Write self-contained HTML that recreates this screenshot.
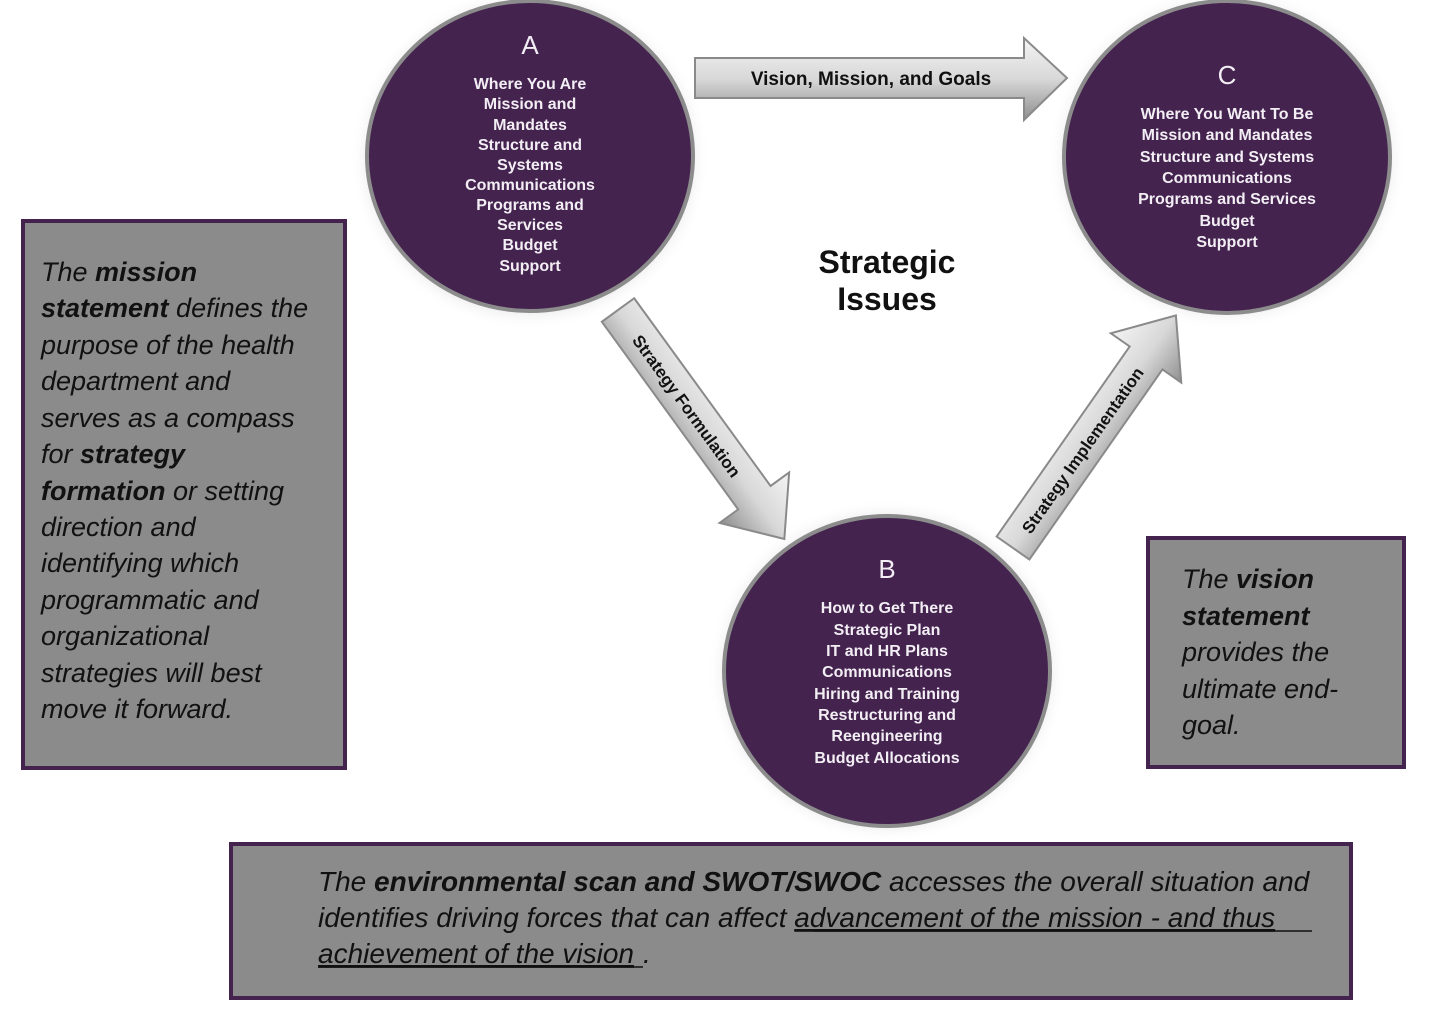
<!DOCTYPE html>
<html><head><meta charset="utf-8"><style>
html,body{margin:0;padding:0;background:#fff;}
svg{display:block;}
.c{font-family:"Liberation Sans",sans-serif;font-weight:bold;fill:#f2eef4;text-anchor:middle;}
.t{font-family:"Liberation Sans",sans-serif;font-style:italic;fill:#111;}
</style></head><body>
<svg width="1432" height="1016" viewBox="0 0 1432 1016" xmlns="http://www.w3.org/2000/svg">
<defs>
<linearGradient id="gh" x1="0" y1="0" x2="0" y2="1">
<stop offset="0" stop-color="#f4f4f4"/><stop offset="0.5" stop-color="#d8d8d8"/><stop offset="1" stop-color="#8e8e8e"/>
</linearGradient>
<radialGradient id="glow" cx="0.5" cy="0.5" r="0.5">
<stop offset="0.85" stop-color="#ccc" stop-opacity="0.6"/><stop offset="1" stop-color="#fff" stop-opacity="0"/>
</radialGradient>
</defs>
<!-- circles -->
<ellipse cx="530" cy="158" rx="180" ry="172" fill="url(#glow)"/>
<ellipse cx="1227" cy="158" rx="180" ry="172" fill="url(#glow)"/>
<ellipse cx="887" cy="671" rx="180" ry="172" fill="url(#glow)"/>
<ellipse cx="530" cy="156" rx="163" ry="155" fill="#44234f" stroke="#8c8c8c" stroke-width="4"/>
<ellipse cx="1227" cy="157" rx="163" ry="156" fill="#44234f" stroke="#8c8c8c" stroke-width="4"/>
<ellipse cx="887" cy="671" rx="163" ry="155" fill="#44234f" stroke="#8c8c8c" stroke-width="4"/>

<g class="c" font-size="16">
<text x="530" y="54" font-size="26" font-weight="normal">A</text>
<text x="530" y="89">Where You Are</text>
<text x="530" y="109">Mission and</text>
<text x="530" y="130">Mandates</text>
<text x="530" y="150">Structure and</text>
<text x="530" y="170">Systems</text>
<text x="530" y="190">Communications</text>
<text x="530" y="210">Programs and</text>
<text x="530" y="230">Services</text>
<text x="530" y="250">Budget</text>
<text x="530" y="271">Support</text>

<text x="1227" y="84" font-size="26" font-weight="normal">C</text>
<text x="1227" y="119">Where You Want To Be</text>
<text x="1227" y="140">Mission and Mandates</text>
<text x="1227" y="162">Structure and Systems</text>
<text x="1227" y="183">Communications</text>
<text x="1227" y="204">Programs and Services</text>
<text x="1227" y="226">Budget</text>
<text x="1227" y="247">Support</text>

<text x="887" y="578" font-size="26" font-weight="normal">B</text>
<text x="887" y="613">How to Get There</text>
<text x="887" y="635">Strategic Plan</text>
<text x="887" y="656">IT and HR Plans</text>
<text x="887" y="677">Communications</text>
<text x="887" y="699">Hiring and Training</text>
<text x="887" y="720">Restructuring and</text>
<text x="887" y="741">Reengineering</text>
<text x="887" y="763">Budget Allocations</text>
</g>

<!-- top arrow -->
<polygon points="695,58 1024,58 1024,38 1067,78 1024,120 1024,98 695,98" fill="url(#gh)" stroke="#8a8a8a" stroke-width="2"/>
<text x="871" y="85" font-family="Liberation Sans,sans-serif" font-weight="bold" font-size="19" fill="#111" text-anchor="middle">Vision, Mission, and Goals</text>

<!-- Strategy Formulation arrow: axis from (618,310) angle 54deg -->
<g transform="translate(618,310) rotate(54)">
<polygon points="0,-20 232,-20 232,-43 283,0 232,43 232,20 0,20" fill="url(#gh)" stroke="#8a8a8a" stroke-width="2"/>
<text x="118" y="7" font-family="Liberation Sans,sans-serif" font-weight="bold" font-size="17" fill="#111" text-anchor="middle">Strategy Formulation</text>
</g>

<!-- Strategy Implementation arrow -->
<g transform="translate(1013,548) rotate(-55)">
<polygon points="0,-20 232,-20 232,-43 284,0 232,43 232,20 0,20" fill="url(#gh)" stroke="#8a8a8a" stroke-width="2"/>
<text x="120" y="7" font-family="Liberation Sans,sans-serif" font-weight="bold" font-size="17" fill="#111" text-anchor="middle">Strategy Implementation</text>
</g>

<text x="887" y="273" font-family="Liberation Sans,sans-serif" font-weight="bold" font-size="32" fill="#111" text-anchor="middle">Strategic</text>
<text x="887" y="310" font-family="Liberation Sans,sans-serif" font-weight="bold" font-size="32" fill="#111" text-anchor="middle">Issues</text>

<!-- left box -->
<rect x="23" y="221" width="322" height="547" fill="#8b8b8b" stroke="#44234f" stroke-width="4"/>
<g class="t" font-size="27">
<text x="41" y="281">The <tspan font-weight="bold">mission</tspan></text>
<text x="41" y="317"><tspan font-weight="bold">statement</tspan> defines the</text>
<text x="41" y="354">purpose of the health</text>
<text x="41" y="390">department and</text>
<text x="41" y="427">serves as a compass</text>
<text x="41" y="463">for <tspan font-weight="bold">strategy</tspan></text>
<text x="41" y="500"><tspan font-weight="bold">formation</tspan> or setting</text>
<text x="41" y="536">direction and</text>
<text x="41" y="572">identifying which</text>
<text x="41" y="609">programmatic and</text>
<text x="41" y="645">organizational</text>
<text x="41" y="682">strategies will best</text>
<text x="41" y="718">move it forward.</text>
</g>

<!-- right box -->
<rect x="1148" y="538" width="256" height="229" fill="#8b8b8b" stroke="#44234f" stroke-width="4"/>
<g class="t" font-size="27">
<text x="1182" y="588">The <tspan font-weight="bold">vision</tspan></text>
<text x="1182" y="625"><tspan font-weight="bold">statement</tspan></text>
<text x="1182" y="661">provides the</text>
<text x="1182" y="698">ultimate end-</text>
<text x="1182" y="734">goal.</text>
</g>

<!-- bottom box -->
<rect x="231" y="844" width="1120" height="154" fill="#8b8b8b" stroke="#44234f" stroke-width="4"/>
<g class="t" font-size="28">
<text x="318" y="891">The <tspan font-weight="bold">environmental scan and SWOT/SWOC</tspan> accesses the overall situation and</text>
<text x="318" y="927">identifies driving forces that can affect <tspan text-decoration="underline">advancement of the mission - and thus</tspan></text>
<text x="318" y="963" text-decoration="underline">achievement of the vision</text><text x="643" y="963">.</text>
</g>
<line x1="813" y1="931" x2="1312" y2="931" stroke="#111" stroke-width="1.5"/>
<line x1="318" y1="967" x2="643" y2="967" stroke="#111" stroke-width="1.5"/>
</svg>
</body></html>
